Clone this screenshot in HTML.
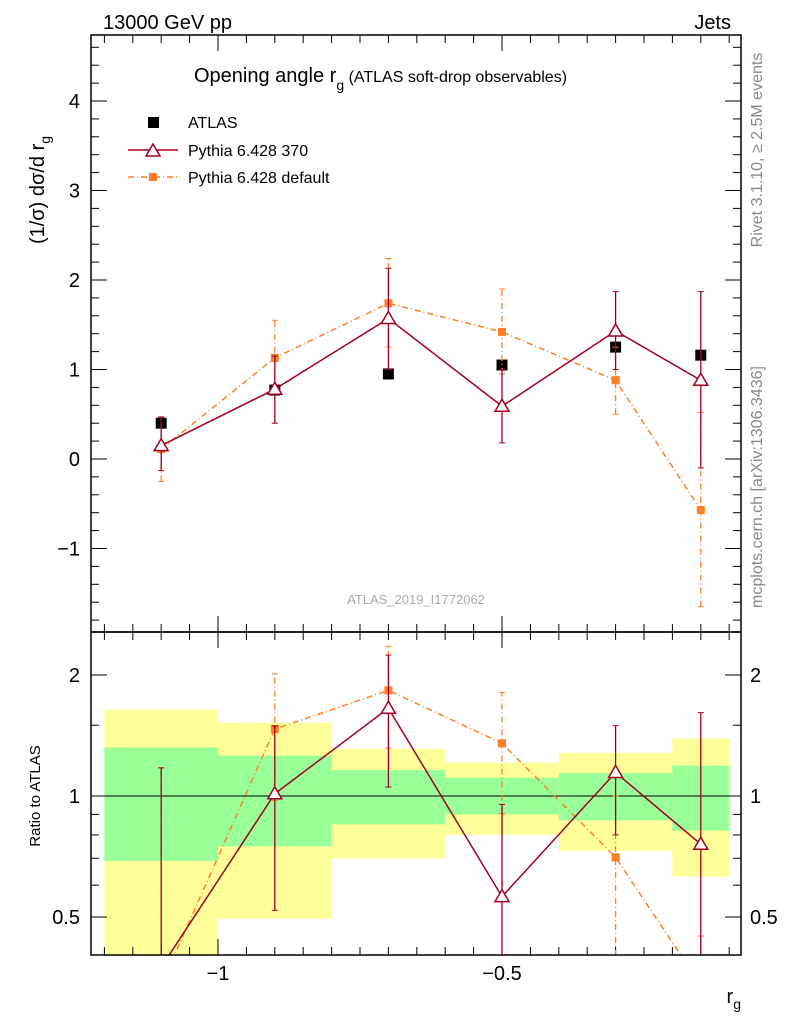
<!DOCTYPE html>
<html><head><meta charset="utf-8"><style>
html,body{margin:0;background:#fff;overflow:hidden;width:786px;height:1024px}
svg{font-family:"Liberation Sans",sans-serif;display:block}
</style></head><body>
<svg id="c" width="786" height="1024" xmlns="http://www.w3.org/2000/svg">
<text x="103" y="29" font-size="20">13000 GeV pp</text>
<text x="731" y="29" font-size="20" text-anchor="end">Jets</text>
<text x="194" y="82" font-size="20">Opening angle r<tspan font-size="14" dy="8">g</tspan><tspan font-size="16" dy="-8"> (ATLAS soft-drop observables)</tspan></text>
<text transform="translate(44,190) rotate(-90)" font-size="20" text-anchor="middle">(1/σ) dσ/d r<tspan font-size="14" dy="6">g</tspan></text>
<text transform="translate(40,796) rotate(-90)" font-size="15" text-anchor="middle">Ratio to ATLAS</text>
<text x="741" y="1003" font-size="20" text-anchor="end">r<tspan font-size="14" dy="6">g</tspan></text>
<text transform="translate(762,150) rotate(-90)" font-size="16" fill="#888" text-anchor="middle">Rivet 3.1.10, ≥ 2.5M events</text>
<text transform="translate(762,487) rotate(-90)" font-size="16" fill="#888" text-anchor="middle">mcplots.cern.ch [arXiv:1306.3436]</text>
<text x="416" y="604" font-size="13" fill="#aaa" text-anchor="middle">ATLAS_2019_I1772062</text>
<g id="bands"></g><g id="ticks"></g><g id="marks"></g>
<rect x="91" y="35" width="650" height="597" fill="none" stroke="#000" stroke-width="1.5"/>
<rect x="91" y="632" width="650" height="323" fill="none" stroke="#000" stroke-width="1.5"/>
<g>
<rect x="148" y="117" width="11" height="11" fill="#000"/>
<text x="188" y="128" font-size="16">ATLAS</text>
<line x1="128" y1="150" x2="178" y2="150" stroke="#a00020" stroke-width="1.5"/>
<path d="M153,144 L160,156 L146,156 Z" fill="#fff" stroke="#a00020" stroke-width="1.5"/>
<text x="188" y="156" font-size="16">Pythia 6.428 370</text>
<line x1="128" y1="177" x2="178" y2="177" stroke="#ff7f27" stroke-width="1.5" stroke-dasharray="6,3,1,3"/>
<rect x="149" y="173" width="8" height="8" fill="#ff7f27"/>
<text x="188" y="183" font-size="16">Pythia 6.428 default</text>
</g>
</svg>
<script>
const xCenters=[-1.1,-0.9,-0.7,-0.5,-0.3,-0.15];
const binEdges=[-1.2,-1.0,-0.8,-0.6,-0.4,-0.2,-0.1];
const atlas=[0.40,0.77,0.95,1.05,1.25,1.16];
const bandYelLo=[0.38,0.495,0.70,0.80,0.73,0.63];
const bandYelHi=[1.64,1.52,1.31,1.21,1.28,1.39];
const bandGrnLo=[0.69,0.75,0.85,0.90,0.87,0.82];
const bandGrnHi=[1.32,1.26,1.16,1.11,1.14,1.19];
const p370=[0.15,0.78,1.57,0.59,1.43,0.88];
const p370Lo=[-0.13,0.40,1.00,0.18,1.00,-0.10];
const p370Hi=[0.47,1.15,2.13,1.00,1.87,1.87];
const pDef=[0.11,1.13,1.74,1.42,0.88,-0.57];
const pDefLo=[-0.25,0.75,1.25,0.95,0.50,-1.65];
const pDefHi=[0.47,1.55,2.24,1.90,1.25,0.52];
const yTicks=[-1,0,1,2,3,4];
const rTicks=[0.5,1,2];
const xTicks=[-1,-0.5];
const NS="http://www.w3.org/2000/svg";
const X=v=>218+(v+1)*568;
const Y=v=>459-v*89.5;
const RT=632,RB=955,MT=35,MB=632;
const R=v=>v>0?Math.max(RT-30,Math.min(RB+30,796-Math.log2(v)*121)):RB+30;
function el(p,t,a){const e=document.createElementNS(NS,t);for(const k in a)e.setAttribute(k,a[k]);p.appendChild(e);return e;}
const B=document.getElementById('bands'),T=document.getElementById('ticks'),M=document.getElementById('marks');
const cr=v=>Math.max(RT,Math.min(RB,v));
for(let i=0;i<6;i++){
 const x0=X(binEdges[i]),w=X(binEdges[i+1])-x0;
 let r=el(B,'rect',{x:x0,y:cr(R(bandYelHi[i])),width:w,height:cr(R(bandYelLo[i]))-cr(R(bandYelHi[i])),fill:'#ffff99'});
 
 
 r=el(B,'rect',{x:x0,y:cr(R(bandGrnHi[i])),width:w,height:cr(R(bandGrnLo[i]))-cr(R(bandGrnHi[i])),fill:'#99ff99'});
 
 
}
el(B,'line',{x1:91,x2:741,y1:R(1),y2:R(1),stroke:'#000','stroke-width':1});
for(let v=-1.8;v<=4.7;v+=0.2){const y=Y(v);if(y<MT||y>MB)continue;const maj=Math.abs(v-Math.round(v))<0.01;
 el(T,'line',{x1:91,x2:91+(maj?16:8),y1:y,y2:y,stroke:'#000'});el(T,'line',{x1:741,x2:741-(maj?16:8),y1:y,y2:y,stroke:'#000'});}
yTicks.forEach(v=>{const t=el(T,'text',{x:80,y:Y(v)+7,'font-size':20,'text-anchor':'end'});t.textContent=v<0?'−'+(-v):v;
 
 });
[0.5,0.6,0.7,0.8,0.9,1,1.5,2].forEach(v=>{const y=R(v),maj=[0.5,1,2].includes(v);
 el(T,'line',{x1:91,x2:91+(maj?16:8),y1:y,y2:y,stroke:'#000'});el(T,'line',{x1:741,x2:741-(maj?16:8),y1:y,y2:y,stroke:'#000'});});
rTicks.forEach(v=>{let t=el(T,'text',{x:80,y:R(v)+7,'font-size':20,'text-anchor':'end'});t.textContent=v;
 
 
 t=el(T,'text',{x:750,y:R(v)+7,'font-size':20});t.textContent=v;
 
 });
for(let v=-1.2;v<=-0.08;v+=0.05){const x=X(v),maj=Math.abs(v*2-Math.round(v*2))<0.01;
 [[MB,MT],[RB,RT]].forEach(([b,t])=>{el(T,'line',{x1:x,x2:x,y1:b,y2:b-(maj?16:8),stroke:'#000'});el(T,'line',{x1:x,x2:x,y1:t,y2:t+(maj?16:8),stroke:'#000'});});}
xTicks.forEach(v=>{const t=el(T,'text',{x:X(v),y:980,'font-size':20,'text-anchor':'middle'});t.textContent='−'+(-v);
 
 });
function series(vals,lo,hi,col,dash,marker,ratio,name){
 const ys=ratio?R:Y;
 const pts=[];
 const g=el(M,'g',{});
 
 
 g.setAttribute('clip-path',ratio?'url(#clipR)':'url(#clipM)');
 for(let i=0;i<6;i++){
  const a=ratio?atlas[i]:1;
  const y=ys(vals[i]/a),x=X(xCenters[i]);pts.push(x+','+y);
  const y1=ys(lo[i]/a),y2=ys(hi[i]/a);
  el(g,'line',{x1:x,x2:x,y1:y1,y2:y2,stroke:col,'stroke-width':1.3,'stroke-dasharray':dash});
  el(g,'line',{x1:x-3,x2:x+3,y1:y2,y2:y2,stroke:col});
  el(g,'line',{x1:x-3,x2:x+3,y1:y1,y2:y1,stroke:col});
 }
 el(g,'polyline',{points:pts.join(' '),fill:'none',stroke:col,'stroke-width':1.5,'stroke-dasharray':dash});
 pts.forEach(p=>{const [x,y]=p.split(',').map(Number);
  const m=marker==='tri'?el(g,'path',{d:`M${x},${y-7} L${x+7},${y+5} L${x-7},${y+5} Z`,fill:'#fff',stroke:col,'stroke-width':1.5}):el(g,'rect',{x:x-4,y:y-4,width:8,height:8,fill:col});
  
  });
}
const defs=el(document.getElementById('c'),'defs',{});
el(el(defs,'clipPath',{id:'clipM'}),'rect',{x:91,y:35,width:650,height:597});
el(el(defs,'clipPath',{id:'clipR'}),'rect',{x:91,y:632,width:650,height:323});
for(let i=0;i<6;i++){const r=el(M,'rect',{x:X(xCenters[i])-5.5,y:Y(atlas[i])-5.5,width:11,height:11,fill:'#000'});
 
 }
series(pDef,pDefLo,pDefHi,'#ff7f27','6,3,1,3','sq',false,'pythia-default');
series(p370,p370Lo,p370Hi,'#a00020','','tri',false,'pythia-370');
series(pDef,pDefLo,pDefHi,'#ff7f27','6,3,1,3','sq',true,'pythia-default-ratio');
series(p370,p370Lo,p370Hi,'#a00020','','tri',true,'pythia-370-ratio');
</script>
</body></html>
